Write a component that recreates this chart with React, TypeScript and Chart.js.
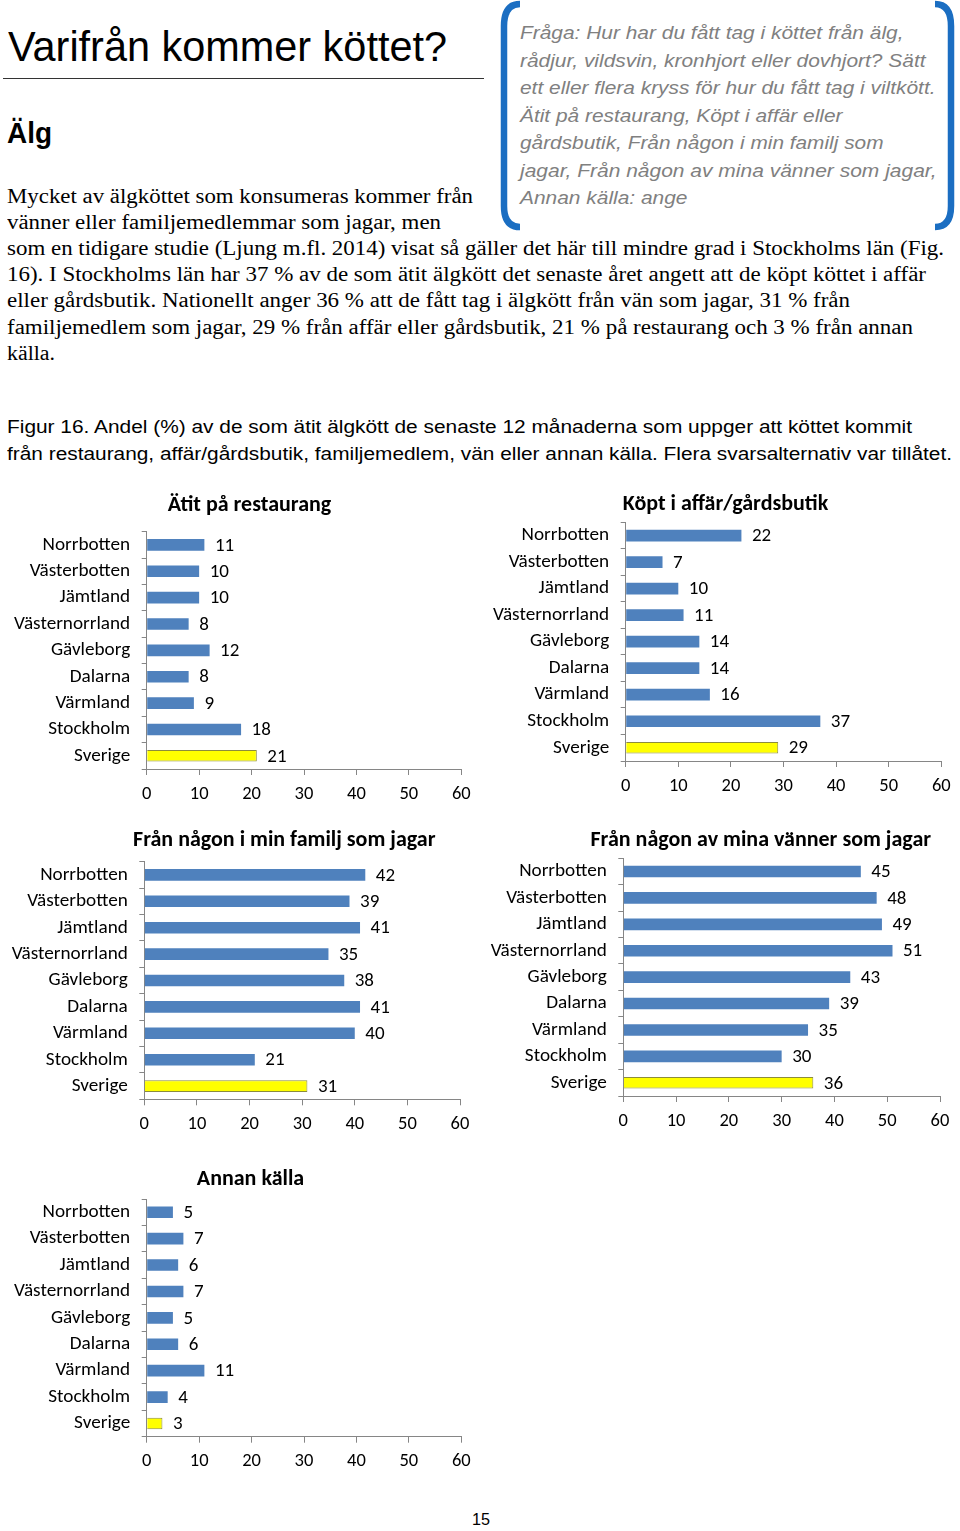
import React, { useEffect, useLayoutEffect, useRef } from "react";
import { Chart, registerables } from "chart.js";

Chart.register(...registerables);

// ---------- Data ----------
const categories = [
  "Norrbotten",
  "Västerbotten",
  "Jämtland",
  "Västernorrland",
  "Gävleborg",
  "Dalarna",
  "Värmland",
  "Stockholm",
  "Sverige",
];
const restaurangValues = [11, 10, 10, 8, 12, 8, 9, 18, 21];
const affarValues = [22, 7, 10, 11, 14, 14, 16, 37, 29];
const familjValues = [42, 39, 41, 35, 38, 41, 40, 21, 31];
const vannerValues = [45, 48, 49, 51, 43, 39, 35, 30, 36];
const annanValues = [5, 7, 6, 7, 5, 6, 11, 4, 3];
const xMin = 0;
const xMax = 60;
const xStep = 10;

const panelTitles = [
  "Ätit på restaurang",
  "Köpt i affär/gårdsbutik",
  "Från någon i min familj som jagar",
  "Från någon av mina vänner som jagar",
  "Annan källa",
];

// ---------- Text ----------
const boxLines = [
  "Fråga: Hur har du fått tag i köttet från älg,",
  "rådjur, vildsvin, kronhjort eller dovhjort? Sätt",
  "ett eller flera kryss för hur du fått tag i viltkött.",
  "Ätit på restaurang, Köpt i affär eller",
  "gårdsbutik, Från någon i min familj som",
  "jagar, Från någon av mina vänner som jagar,",
  "Annan källa: ange",
];
const boxRight = [903, 925, 935, 842, 883, 936, 687];

const paraLines = [
  "Mycket av älgköttet som konsumeras kommer från",
  "vänner eller familjemedlemmar som jagar, men",
  "som en tidigare studie (Ljung m.fl. 2014) visat så gäller det här till mindre grad i Stockholms län (Fig.",
  "16). I Stockholms län har 37 % av de som ätit älgkött det senaste året angett att de köpt köttet i affär",
  "eller gårdsbutik. Nationellt anger 36 % att de fått tag i älgkött från vän som jagar, 31 % från",
  "familjemedlem som jagar, 29 % från affär eller gårdsbutik, 21 % på restaurang och 3 % från annan",
  "källa.",
];
const paraRight = [473, 441, 944, 926, 850, 913, 55];
const paraBase = [202.5, 228.5, 254.5, 280.5, 307, 333.5, 360];

const captionLines = [
  "Figur 16. Andel (%) av de som ätit älgkött de senaste 12 månaderna som uppger att köttet kommit",
  "från restaurang, affär/gårdsbutik, familjemedlem, vän eller annan källa. Flera svarsalternativ var tillåtet.",
];
const captionRight = [912, 952];
const captionBase = [434, 461];

// ---------- Styling ----------
const SANS = '"Liberation Sans", Arial, sans-serif';
const SERIF = '"Liberation Serif", "Times New Roman", serif';
const CHART_FONT = "Carlito, Lato, sans-serif";
const BLUE = "#4F81BD";
const YELLOW = "#FFFF00";
const YELLOW_BORDER = "#8C8C3C";
const AXIS = "#868686";

type LineProps = {
  text: string;
  x: number;
  right: number;
  baseline: number;
  size: number;
  family: string;
  ratio: number;
  weight?: string | number;
  italic?: boolean;
  color?: string;
};

function FitLine({ text, x, right, baseline, size, family, ratio, weight, italic, color }: LineProps) {
  const ref = useRef<HTMLSpanElement>(null);
  useLayoutEffect(() => {
    const measure = () => {
      const el = ref.current;
      if (!el) return;
      el.style.transform = "none";
      const w = el.getBoundingClientRect().width;
      if (w > 0) el.style.transform = `scaleX(${(right - x) / w})`;
    };
    measure();
    const fonts = (document as any).fonts;
    if (fonts && fonts.ready) fonts.ready.then(measure);
  }, [text, x, right]);
  return (
    <span
      ref={ref}
      style={{
        position: "absolute",
        left: x,
        top: baseline - ratio * size,
        fontSize: size,
        lineHeight: `${size}px`,
        fontFamily: family,
        fontWeight: weight ?? "normal",
        fontStyle: italic ? "italic" : "normal",
        color: color ?? "#000",
        whiteSpace: "nowrap",
        transformOrigin: "0 0",
      }}
    >
      {text}
    </span>
  );
}

const SANS_R = 0.8465;
const SERIF_R = 0.8375;

type Box = {
  left: number;
  top: number;
  w: number;
  h: number;
  yW: number;
  padR: number;
  padT: number;
  xH: number;
  titleX: number;
  titleY: number;
};

const panelTitlePlugin = {
  id: "panelTitle",
  afterDraw(chart: any, _args: any, opts: any) {
    const ctx = chart.ctx;
    ctx.save();
    ctx.font = `bold ${opts.size}px ${CHART_FONT}`;
    ctx.fillStyle = "#000";
    ctx.textAlign = "center";
    ctx.textBaseline = "middle";
    ctx.fillText(opts.text, opts.x, opts.y);
    ctx.restore();
  },
};

const valueLabelPlugin = {
  id: "valueLabels",
  afterDatasetsDraw(chart: any, _args: any, opts: any) {
    const ctx = chart.ctx;
    const meta = chart.getDatasetMeta(0);
    const data = chart.data.datasets[0].data;
    ctx.save();
    ctx.font = `${opts.size}px ${CHART_FONT}`;
    ctx.fillStyle = "#000";
    ctx.textAlign = "left";
    ctx.textBaseline = "middle";
    meta.data.forEach((bar: any, i: number) => {
      ctx.fillText(String(data[i]), bar.x + opts.gap, bar.y + 1);
    });
    ctx.restore();
  },
};

function BarPanel({ title, values, box }: { title: string; values: number[]; box: Box }) {
  const ref = useRef<HTMLCanvasElement>(null);
  useEffect(() => {
    if (!ref.current) return;
    const last = values.length - 1;
    const chart = new Chart(ref.current, {
      type: "bar",
      data: {
        labels: categories,
        datasets: [
          {
            data: values,
            backgroundColor: values.map((_, i) => (i === last ? YELLOW : BLUE)),
            borderColor: values.map((_, i) => (i === last ? YELLOW_BORDER : BLUE)),
            borderWidth: values.map((_, i) => (i === last ? 1 : 0)),
            barPercentage: 0.44,
            categoryPercentage: 1,
          },
        ],
      },
      options: {
        indexAxis: "y",
        responsive: false,
        animation: false,
        layout: { padding: { left: 0, right: box.padR, top: box.padT, bottom: 0 } },
        plugins: {
          legend: { display: false },
          title: { display: false },
          tooltip: { enabled: false },
          panelTitle: { text: title, x: box.titleX, y: box.titleY, size: 22 },
          valueLabels: { size: 19, gap: 10.5 },
        } as any,
        scales: {
          x: {
            type: "linear",
            min: xMin,
            max: xMax,
            ticks: {
              stepSize: xStep,
              color: "#000",
              font: { family: CHART_FONT, size: 18.5 },
              padding: 8,
            },
            grid: { drawOnChartArea: false, drawTicks: true, tickLength: 6, color: AXIS },
            border: { display: true, color: AXIS },
            afterFit: (s: any) => {
              s.height = box.xH;
            },
          },
          y: {
            type: "category",
            ticks: {
              color: "#000",
              font: { family: CHART_FONT, size: 19.2 },
              padding: 11.5,
            },
            grid: { offset: true, drawOnChartArea: false, drawTicks: true, tickLength: 5, color: AXIS },
            border: { display: true, color: AXIS },
            afterFit: (s: any) => {
              s.width = box.yW;
            },
          },
        },
      } as any,
      plugins: [panelTitlePlugin, valueLabelPlugin],
    });
    return () => chart.destroy();
  }, [title, values, box]);
  return (
    <canvas
      ref={ref}
      width={box.w}
      height={box.h}
      style={{ position: "absolute", left: box.left, top: box.top, width: box.w, height: box.h }}
    />
  );
}

const boxes: Box[] = [
  { left: 0, top: 485, w: 480, h: 330, yW: 146.7, padR: 18.7, padT: 46.7, xH: 46, titleX: 249.5, titleY: 20 },
  { left: 480, top: 485, w: 480, h: 320, yW: 145.7, padR: 18.7, padT: 37.3, xH: 44, titleX: 245.5, titleY: 19.3 },
  { left: 0, top: 820, w: 480, h: 320, yW: 144.3, padR: 20, padT: 41.7, xH: 40.7, titleX: 284.3, titleY: 20.7 },
  { left: 480, top: 820, w: 480, h: 320, yW: 143.3, padR: 20, padT: 38.3, xH: 44, titleX: 280.8, titleY: 20 },
  { left: 0, top: 1160, w: 480, h: 330, yW: 146.7, padR: 18.7, padT: 39, xH: 53.3, titleX: 250.5, titleY: 19 },
];
const panelValues = [restaurangValues, affarValues, familjValues, vannerValues, annanValues];

export default function App() {
  return (
    <div
      style={{
        position: "absolute",
        left: 0,
        top: 0,
        width: 960,
        height: 1531,
        background: "#fff",
        overflow: "hidden",
      }}
    >
      <FitLine text="Varifrån kommer köttet?" x={8} right={447} baseline={62} size={42} family={SANS} ratio={SANS_R} />
      <div style={{ position: "absolute", left: 3, top: 77.5, width: 481, height: 1.5, background: "#333" }} />
      <FitLine text="Älg" x={7} right={52} baseline={144} size={29} family={SANS} ratio={SANS_R} weight="bold" />

      <svg width={960} height={240} style={{ position: "absolute", left: 0, top: 0 }}>
        <path d="M 520 4 Q 504 4 504 26 L 504 206 Q 504 227 520 227" fill="none" stroke="#1B6EC2" strokeWidth={6.5} />
        <path d="M 935 4 Q 951 4 951 26 L 951 206 Q 951 227 935 227" fill="none" stroke="#1B6EC2" strokeWidth={6.5} />
      </svg>
      {boxLines.map((t, i) => (
        <FitLine
          key={"b" + i}
          text={t}
          x={519.5}
          right={boxRight[i]}
          baseline={40 + 27.5 * i}
          size={18.6}
          family={SANS}
          ratio={SANS_R}
          italic
          color="#808080"
        />
      ))}

      {paraLines.map((t, i) => (
        <FitLine
          key={"p" + i}
          text={t}
          x={7}
          right={paraRight[i]}
          baseline={paraBase[i]}
          size={20}
          family={SERIF}
          ratio={SERIF_R}
        />
      ))}

      {captionLines.map((t, i) => (
        <FitLine
          key={"c" + i}
          text={t}
          x={7}
          right={captionRight[i]}
          baseline={captionBase[i]}
          size={18.7}
          family={SANS}
          ratio={SANS_R}
        />
      ))}

      {boxes.map((b, i) => (
        <BarPanel key={i} title={panelTitles[i]} values={panelValues[i]} box={b} />
      ))}

      <FitLine text="15" x={472} right={490} baseline={1525} size={16.5} family={SANS} ratio={SANS_R} />
    </div>
  );
}
